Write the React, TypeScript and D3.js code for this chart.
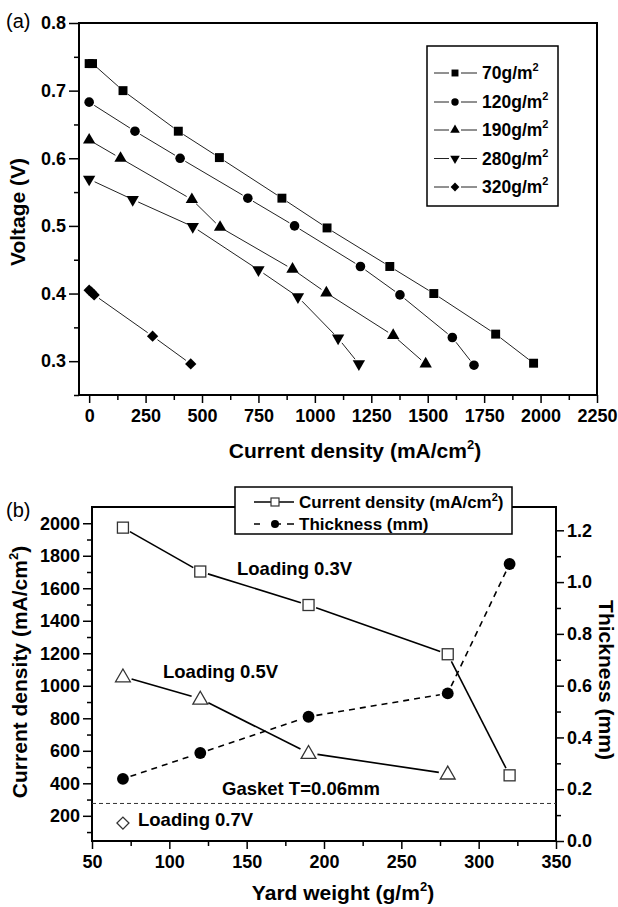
import React, { useEffect, useRef } from "react";
import * as d3 from "d3";

const W = 618;
const H = 907;
const FONT = "Arial, 'Liberation Sans', Helvetica, sans-serif";

// ---- panel (a): polarization curves ----
const loadingLabels = ["70", "120", "190", "280", "320"];
const cur70 = [0, 15, 150, 395, 577, 854, 1054, 1332, 1527, 1801, 1969];
const volt70 = [0.74, 0.74, 0.7, 0.64, 0.601, 0.541, 0.497, 0.44, 0.4, 0.34, 0.297];
const cur120 = [0, 203, 403, 703, 910, 1202, 1377, 1609, 1705];
const volt120 = [0.683, 0.64, 0.6, 0.541, 0.5, 0.44, 0.398, 0.335, 0.294];
const cur190 = [0, 139, 455, 580, 901, 1051, 1347, 1491];
const volt190 = [0.627, 0.6, 0.539, 0.498, 0.436, 0.401, 0.338, 0.296];
const cur280 = [0, 193, 459, 750, 925, 1103, 1195];
const volt280 = [0.569, 0.539, 0.499, 0.435, 0.395, 0.334, 0.296];
const cur320 = [0, 10, 22, 281, 450];
const volt320 = [0.405, 0.402, 0.398, 0.337, 0.296];

// ---- panel (b): vs yard weight ----
const weights = [70, 120, 190, 280, 320];
const cd03 = [1973, 1703, 1497, 1194, 449];
const weights05 = [70, 120, 190, 280];
const cd05 = [1057, 920, 586, 459];
const weight07 = 70;
const cd07 = 155;
const thickness = [0.24, 0.34, 0.48, 0.57, 1.07];
const gasketCd = 276;

type Pt = [number, number];

// line segments shortened at both ends (Origin-style gaps round the symbols)
function gapSegs(pts: Pt[], gap: number) {
  const segs: [Pt, Pt][] = [];
  for (let i = 0; i < pts.length - 1; i++) {
    const [x1, y1] = pts[i];
    const [x2, y2] = pts[i + 1];
    const len = Math.hypot(x2 - x1, y2 - y1);
    if (len <= gap * 2 + 1) continue;
    const ux = (x2 - x1) / len;
    const uy = (y2 - y1) / len;
    segs.push([
      [x1 + ux * gap, y1 + uy * gap],
      [x2 - ux * gap, y2 - uy * gap],
    ]);
  }
  return segs;
}

const App = () => {
  const svgRef = useRef<SVGSVGElement>(null);

  useEffect(() => {
    const svg = d3.select(svgRef.current);
    svg.selectAll("*").remove();

    const TICK_FS = 18;
    const styleAxis = (g: any, fs: number) => {
      g.attr("font-family", FONT).attr("font-size", fs).attr("font-weight", "bold");
      g.select(".domain").remove();
      g.selectAll("line").attr("stroke", "#000").attr("stroke-width", 1.5);
      g.selectAll("text")
        .attr("font-family", FONT)
        .attr("font-weight", "bold")
        .attr("font-size", fs)
        .attr("fill", "#000");
    };

    // =================== panel (a) ===================
    const ax = d3.scaleLinear().domain([-45, 2250]).range([79, 597]);
    const ay = d3.scaleLinear().domain([0.25, 0.8]).range([395, 23]);
    const a = svg.append("g");

    a.append("g")
      .attr("transform", "translate(0,395)")
      .call(d3.axisBottom(ax).tickValues(d3.range(0, 2251, 250)).tickSize(8).tickPadding(6).tickFormat(d3.format("d")))
      .call((g: any) => styleAxis(g, TICK_FS));
    a.append("g")
      .attr("transform", "translate(0,395)")
      .call(d3.axisBottom(ax).tickValues(d3.range(125, 2250, 250)).tickSize(5).tickFormat(() => ""))
      .call((g: any) => styleAxis(g, TICK_FS));
    a.append("g")
      .attr("transform", "translate(79,0)")
      .call(d3.axisLeft(ay).tickValues([0.3, 0.4, 0.5, 0.6, 0.7, 0.8]).tickSize(10).tickPadding(3).tickFormat(d3.format(".1f")))
      .call((g: any) => styleAxis(g, TICK_FS));
    a.append("g")
      .attr("transform", "translate(79,0)")
      .call(d3.axisLeft(ay).tickValues([0.25, 0.35, 0.45, 0.55, 0.65, 0.75]).tickSize(5).tickFormat(() => ""))
      .call((g: any) => styleAxis(g, TICK_FS));

    a.append("rect")
      .attr("x", 79).attr("y", 23).attr("width", 518).attr("height", 372)
      .attr("fill", "none").attr("stroke", "#000").attr("stroke-width", 2);

    const seriesA = [
      { cur: cur70, volt: volt70, sym: d3.symbolSquare, size: 80, rot: 0 },
      { cur: cur120, volt: volt120, sym: d3.symbolCircle, size: 72, rot: 0 },
      { cur: cur190, volt: volt190, sym: d3.symbolTriangle, size: 66, rot: 0 },
      { cur: cur280, volt: volt280, sym: d3.symbolTriangle, size: 66, rot: 180 },
      { cur: cur320, volt: volt320, sym: d3.symbolSquare, size: 64, rot: 45 },
    ];

    seriesA.forEach((s) => {
      const pts: Pt[] = s.cur.map((c, i) => [ax(c), ay(s.volt[i])]);
      a.append("g")
        .selectAll("line")
        .data(gapSegs(pts, 6))
        .enter()
        .append("line")
        .attr("x1", (d) => d[0][0]).attr("y1", (d) => d[0][1])
        .attr("x2", (d) => d[1][0]).attr("y2", (d) => d[1][1])
        .attr("stroke", "#222").attr("stroke-width", 1);
      a.append("g")
        .selectAll("path")
        .data(pts)
        .enter()
        .append("path")
        .attr("d", d3.symbol(s.sym, s.size)())
        .attr("transform", (d) => `translate(${d[0]},${d[1]}) rotate(${s.rot})`)
        .attr("fill", "#000");
    });

    // legend (a)
    const lg = a.append("g");
    lg.append("rect")
      .attr("x", 427).attr("y", 46).attr("width", 131).attr("height", 160)
      .attr("fill", "#fff").attr("stroke", "#000").attr("stroke-width", 1.5);
    const rowsY = [73, 102, 130, 158.5, 187];
    seriesA.forEach((s, i) => {
      const y = rowsY[i];
      lg.append("line").attr("x1", 434).attr("x2", 449).attr("y1", y).attr("y2", y).attr("stroke", "#222").attr("stroke-width", 1);
      lg.append("line").attr("x1", 461).attr("x2", 477).attr("y1", y).attr("y2", y).attr("stroke", "#222").attr("stroke-width", 1);
      lg.append("path")
        .attr("d", d3.symbol(s.sym, s.size * 0.6)())
        .attr("transform", `translate(455,${y}) rotate(${s.rot})`)
        .attr("fill", "#000");
      const t = lg.append("text")
        .attr("x", 482).attr("y", y + 6)
        .attr("font-family", FONT).attr("font-weight", "bold").attr("font-size", 17.5);
      t.append("tspan").text(`${loadingLabels[i]}g/m`);
      t.append("tspan").attr("dy", -8).attr("font-size", 11).text("2");
    });

    a.append("text")
      .attr("x", 6).attr("y", 28)
      .attr("font-family", FONT).attr("font-size", 20).text("(a)");

    const axt = a.append("text")
      .attr("x", 355).attr("y", 458).attr("text-anchor", "middle")
      .attr("font-family", FONT).attr("font-weight", "bold").attr("font-size", 21);
    axt.append("tspan").text("Current density (mA/cm");
    axt.append("tspan").attr("dy", -9).attr("font-size", 13).text("2");
    axt.append("tspan").attr("dy", 9).text(")");

    a.append("text")
      .attr("transform", "translate(25,212) rotate(-90)")
      .attr("text-anchor", "middle")
      .attr("font-family", FONT).attr("font-weight", "bold").attr("font-size", 21)
      .text("Voltage (V)");

    // =================== panel (b) ===================
    const bx = d3.scaleLinear().domain([50, 350]).range([92, 556]);
    const byL = d3.scaleLinear().domain([45, 2100]).range([841, 507]);
    const byR = d3.scaleLinear().domain([0, 1.29]).range([841, 507]);
    const b = svg.append("g");

    b.append("g")
      .attr("transform", "translate(0,841)")
      .call(d3.axisBottom(bx).tickValues(d3.range(50, 351, 50)).tickSize(8).tickPadding(6).tickFormat(d3.format("d")))
      .call((g: any) => styleAxis(g, TICK_FS));
    b.append("g")
      .attr("transform", "translate(0,841)")
      .call(d3.axisBottom(bx).tickValues(d3.range(75, 350, 50)).tickSize(5).tickFormat(() => ""))
      .call((g: any) => styleAxis(g, TICK_FS));
    b.append("g")
      .attr("transform", "translate(92,0)")
      .call(d3.axisLeft(byL).tickValues(d3.range(200, 2001, 200)).tickSize(9).tickPadding(3).tickFormat(d3.format("d")))
      .call((g: any) => styleAxis(g, TICK_FS));
    b.append("g")
      .attr("transform", "translate(92,0)")
      .call(d3.axisLeft(byL).tickValues(d3.range(100, 2100, 200)).tickSize(5).tickFormat(() => ""))
      .call((g: any) => styleAxis(g, TICK_FS));
    b.append("g")
      .attr("transform", "translate(556,0)")
      .call(d3.axisRight(byR).tickValues(d3.range(0, 1.21, 0.2)).tickSize(8).tickPadding(3).tickFormat(d3.format(".1f")))
      .call((g: any) => styleAxis(g, TICK_FS));
    b.append("g")
      .attr("transform", "translate(556,0)")
      .call(d3.axisRight(byR).tickValues(d3.range(0.1, 1.29, 0.2)).tickSize(5).tickFormat(() => ""))
      .call((g: any) => styleAxis(g, TICK_FS));

    b.append("rect")
      .attr("x", 92).attr("y", 507).attr("width", 464).attr("height", 334)
      .attr("fill", "none").attr("stroke", "#000").attr("stroke-width", 2);

    // gasket reference line
    b.append("line")
      .attr("x1", 92).attr("x2", 556)
      .attr("y1", byL(gasketCd)).attr("y2", byL(gasketCd))
      .attr("stroke", "#333").attr("stroke-width", 1).attr("stroke-dasharray", "4,3");

    const drawSegs = (pts: Pt[], gap: number, dash: string | null) => {
      b.append("g")
        .selectAll("line")
        .data(gapSegs(pts, gap))
        .enter()
        .append("line")
        .attr("x1", (d) => d[0][0]).attr("y1", (d) => d[0][1])
        .attr("x2", (d) => d[1][0]).attr("y2", (d) => d[1][1])
        .attr("stroke", "#000").attr("stroke-width", 1.6)
        .attr("stroke-dasharray", dash);
    };

    const p03: Pt[] = weights.map((w, i) => [bx(w), byL(cd03[i])]);
    const p05: Pt[] = weights05.map((w, i) => [bx(w), byL(cd05[i])]);
    const pTh: Pt[] = weights.map((w, i) => [bx(w), byR(thickness[i])]);
    drawSegs(pTh, 8, "6,5");
    drawSegs(p03, 8, null);
    drawSegs(p05, 9, null);

    b.append("g").selectAll("path").data(pTh).enter().append("path")
      .attr("d", d3.symbol(d3.symbolCircle, 110)())
      .attr("transform", (d) => `translate(${d[0]},${d[1]})`)
      .attr("fill", "#000");
    b.append("g").selectAll("rect").data(p03).enter().append("rect")
      .attr("x", (d) => d[0] - 5.5).attr("y", (d) => d[1] - 5.5)
      .attr("width", 11).attr("height", 11)
      .attr("fill", "#fff").attr("stroke", "#333").attr("stroke-width", 1.3);
    b.append("g").selectAll("path").data(p05).enter().append("path")
      .attr("d", d3.symbol(d3.symbolTriangle, 95)())
      .attr("transform", (d) => `translate(${d[0]},${d[1] + 1})`)
      .attr("fill", "#fff").attr("stroke", "#333").attr("stroke-width", 1.3);
    b.append("path")
      .attr("d", d3.symbol(d3.symbolSquare, 72)())
      .attr("transform", `translate(${bx(weight07)},${byL(cd07)}) rotate(45)`)
      .attr("fill", "#fff").attr("stroke", "#333").attr("stroke-width", 1.3);

    const note = (x: number, y: number, s: string) =>
      b.append("text").attr("x", x).attr("y", y)
        .attr("font-family", FONT).attr("font-weight", "bold").attr("font-size", 18.5).text(s);
    note(237, 575, "Loading 0.3V");
    note(163, 678, "Loading 0.5V");
    note(222, 795, "Gasket T=0.06mm");
    note(138, 826, "Loading 0.7V");

    // legend (b)
    const lb = b.append("g");
    lb.append("rect")
      .attr("x", 235).attr("y", 487).attr("width", 277).attr("height", 47)
      .attr("fill", "#fff").attr("stroke", "#000").attr("stroke-width", 1.5);
    lb.append("line").attr("x1", 254).attr("x2", 294).attr("y1", 502).attr("y2", 502).attr("stroke", "#000").attr("stroke-width", 1.5);
    lb.append("rect").attr("x", 271).attr("y", 498).attr("width", 8).attr("height", 8)
      .attr("fill", "#fff").attr("stroke", "#333").attr("stroke-width", 1.2);
    lb.append("line").attr("x1", 254).attr("x2", 294).attr("y1", 524).attr("y2", 524)
      .attr("stroke", "#000").attr("stroke-width", 1.5).attr("stroke-dasharray", "6,15,6");
    lb.append("circle").attr("cx", 275).attr("cy", 524).attr("r", 4).attr("fill", "#000");
    const t1 = lb.append("text").attr("x", 299).attr("y", 508)
      .attr("font-family", FONT).attr("font-weight", "bold").attr("font-size", 17);
    t1.append("tspan").text("Current density (mA/cm");
    t1.append("tspan").attr("dy", -7).attr("font-size", 11).text("2");
    t1.append("tspan").attr("dy", 7).text(")");
    lb.append("text").attr("x", 299).attr("y", 530)
      .attr("font-family", FONT).attr("font-weight", "bold").attr("font-size", 17)
      .text("Thickness (mm)");

    b.append("text")
      .attr("x", 6).attr("y", 517)
      .attr("font-family", FONT).attr("font-size", 20).text("(b)");

    const bxt = b.append("text")
      .attr("x", 343).attr("y", 900).attr("text-anchor", "middle")
      .attr("font-family", FONT).attr("font-weight", "bold").attr("font-size", 21);
    bxt.append("tspan").text("Yard weight (g/m");
    bxt.append("tspan").attr("dy", -9).attr("font-size", 13).text("2");
    bxt.append("tspan").attr("dy", 9).text(")");

    const byt = b.append("text")
      .attr("transform", "translate(27,672) rotate(-90)")
      .attr("text-anchor", "middle")
      .attr("font-family", FONT).attr("font-weight", "bold").attr("font-size", 21);
    byt.append("tspan").text("Current density (mA/cm");
    byt.append("tspan").attr("dy", -9).attr("font-size", 13).text("2");
    byt.append("tspan").attr("dy", 9).text(")");

    b.append("text")
      .attr("transform", "translate(599,680) rotate(90)")
      .attr("text-anchor", "middle")
      .attr("font-family", FONT).attr("font-weight", "bold").attr("font-size", 21)
      .text("Thickness (mm)");
  }, []);

  return (
    <svg
      ref={svgRef}
      width={W}
      height={H}
      style={{ position: "absolute", left: 0, top: 0, background: "#fff" }}
    />
  );
};

export default App;
